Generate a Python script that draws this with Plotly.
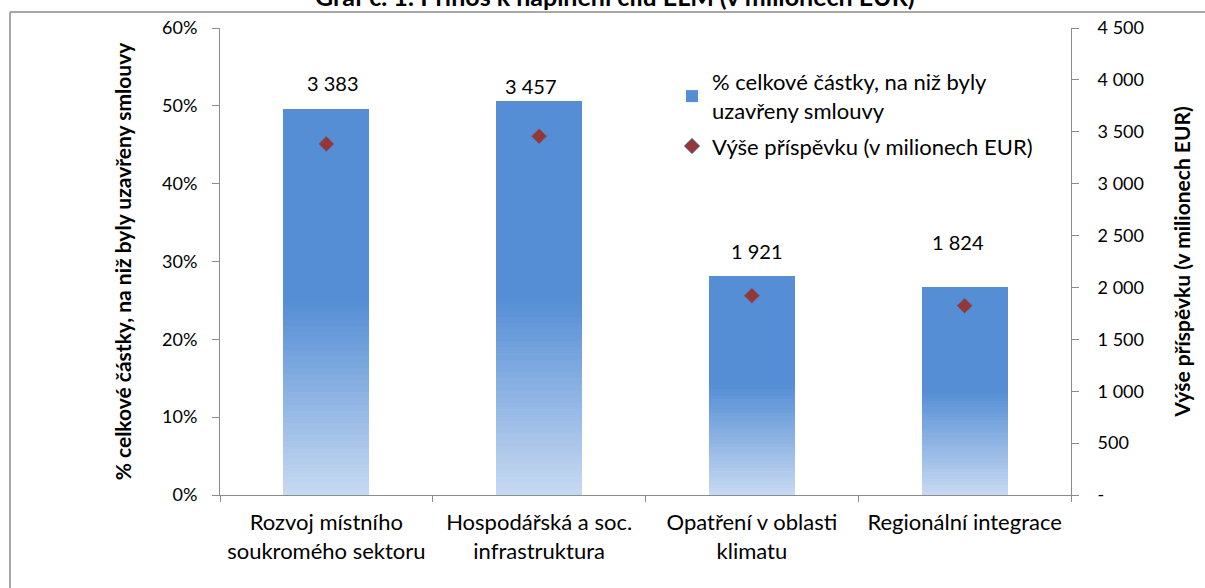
import plotly.graph_objects as go

# ---- data ----
categories = [
    "Rozvoj místního<br>soukromého sektoru",
    "Hospodářská a soc.<br>infrastruktura",
    "Opatření v oblasti<br>klimatu",
    "Regionální integrace",
]
share_pct = [49.6, 50.6, 28.1, 26.7]            # % celkové částky, na niž byly uzavřeny smlouvy
contribution_meur = [3383, 3457, 1921, 1824]     # Výše příspěvku (v milionech EUR)
contribution_labels = ["3 383", "3 457", "1 921", "1 824"]

pct_tickvals = [0, 10, 20, 30, 40, 50, 60]
pct_ticktext = ["0%", "10%", "20%", "30%", "40%", "50%", "60%"]
eur_tickvals = [0, 500, 1000, 1500, 2000, 2500, 3000, 3500, 4000, 4500]
eur_ticktext = ["-", "500", "1 000", "1 500", "2 000", "2 500", "3 000", "3 500", "4 000", "4 500"]

title_text = "Graf č. 1: Přínos k naplnění cílů ELM (v milionech EUR)"
bar_name = "% celkové částky, na niž byly<br>uzavřeny smlouvy"
pt_name = "Výše příspěvku (v milionech EUR)"

# ---- style ----
FONT = "Lato"
AXIS_COL = "#8c8c8c"
TOP_COL = (85, 142, 213)
BOT_COL = (200, 218, 242)
BAR_W = 0.404
label_yshift = [26, 15, 25, 45]
label_xshift = [7, -8, 5, -7]

W, H = 1205, 588
ML, MR, MT, MB = 220, 134, 28, 93
PW, PH = W - ML - MR, H - MT - MB


def px_to_paper(px, py):
    return (px - ML) / PW, (H - MB - py) / PH


fig = go.Figure()

# gradient bars: stacked overlapping layers (lower half fades to light blue)
N = 32
for k in range(N):
    f0 = 0.5 * k / N
    t = (k + 0.5) / N
    c = tuple(round(BOT_COL[i] + (TOP_COL[i] - BOT_COL[i]) * t) for i in range(3))
    fig.add_trace(go.Bar(
        x=categories,
        y=[v * (1 - f0) for v in share_pct],
        base=[v * f0 for v in share_pct],
        width=BAR_W,
        marker=dict(color="rgb(%d,%d,%d)" % c, line=dict(width=0)),
        showlegend=False, hoverinfo="skip", yaxis="y",
    ))
fig.add_trace(go.Bar(
    x=categories,
    y=[v * 0.5 for v in share_pct],
    base=[v * 0.5 for v in share_pct],
    width=BAR_W,
    marker=dict(color="rgb(%d,%d,%d)" % TOP_COL, line=dict(width=0)),
    name=bar_name, showlegend=True, yaxis="y", legendgroup="a",
    customdata=share_pct, hovertemplate="%{customdata}%<extra></extra>",
))

fig.add_trace(go.Scatter(
    x=categories, y=contribution_meur, yaxis="y2", mode="markers",
    marker=dict(symbol="diamond", size=12, color="#953735",
                line=dict(color="rgba(79,129,189,0.7)", width=1)),
    name=pt_name, legendgroup="b",
))

annotations = []
for i, cat in enumerate(categories):
    annotations.append(dict(
        x=cat, y=share_pct[i], xref="x", yref="y", text=contribution_labels[i],
        showarrow=False, yanchor="middle", xanchor="center",
        yshift=label_yshift[i], xshift=label_xshift[i],
        font=dict(family=FONT, size=20, color="#000"),
    ))

tx, ty = px_to_paper(615, -4)
annotations.append(dict(
    x=tx, y=ty, xref="paper", yref="paper", text="<b>%s</b>" % title_text,
    showarrow=False, xanchor="center", yanchor="middle",
    font=dict(family=FONT, size=25, color="#000"),
))

bx, by = px_to_paper(10, 12)
_, bby = px_to_paper(10, 700)
rx, _ = px_to_paper(1300, 0)
shapes = [
    dict(type="line", xref="paper", yref="paper", x0=bx, y0=by, x1=rx, y1=by,
         line=dict(color="#8a8a8a", width=1.5)),
    dict(type="line", xref="paper", yref="paper", x0=bx, y0=by, x1=bx, y1=bby,
         line=dict(color="#8a8a8a", width=1.5)),
]

lx, ly = px_to_paper(672, 61)

fig.update_layout(
    width=W, height=H,
    margin=dict(l=ML, r=MR, t=MT, b=MB, pad=0, autoexpand=False),
    paper_bgcolor="white", plot_bgcolor="white",
    barmode="overlay", bargap=0,
    font=dict(family=FONT, size=18, color="#000"),
    showlegend=True,
    legend=dict(x=lx, y=ly, xanchor="left", yanchor="top",
                font=dict(family=FONT, size=22, color="#000"),
                bgcolor="rgba(0,0,0,0)", traceorder="grouped", tracegroupgap=4),
    xaxis=dict(
        type="category", showgrid=False, zeroline=False, automargin=False,
        showline=True, linecolor=AXIS_COL, linewidth=1,
        ticks="outside", tickson="boundaries", ticklen=6, tickcolor=AXIS_COL,
        tickfont=dict(family=FONT, size=22, color="#000"),
        ticklabelstandoff=8,
        range=[-0.5, 3.5], fixedrange=True,
    ),
    yaxis=dict(
        range=[0, 60], tickvals=pct_tickvals, ticktext=pct_ticktext,
        showgrid=False, zeroline=False, automargin=False,
        showline=True, linecolor=AXIS_COL, linewidth=1,
        ticks="outside", ticklen=7, tickcolor=AXIS_COL,
        tickfont=dict(family=FONT, size=18, color="#000"),
        ticklabelstandoff=11,
        title=dict(text="<b>% celkové částky, na niž byly uzavřeny smlouvy</b>",
                   font=dict(family=FONT, size=21, color="#000"), standoff=24),
    ),
    yaxis2=dict(
        range=[0, 4500], tickvals=eur_tickvals, ticktext=eur_ticktext,
        overlaying="y", side="right", anchor="x", automargin=False,
        showgrid=False, zeroline=False,
        showline=True, linecolor=AXIS_COL, linewidth=1,
        ticks="outside", ticklen=7, tickcolor=AXIS_COL,
        tickfont=dict(family=FONT, size=18, color="#000"),
        ticklabelstandoff=15,
        title=dict(text="<b>Výše příspěvku (v milionech EUR)</b>",
                   font=dict(family=FONT, size=21, color="#000"), standoff=32),
    ),
    annotations=annotations,
    shapes=shapes,
)

fig.write_html("out.html", config={"displayModeBar": False},
               post_script="document.body.style.margin='0';")
